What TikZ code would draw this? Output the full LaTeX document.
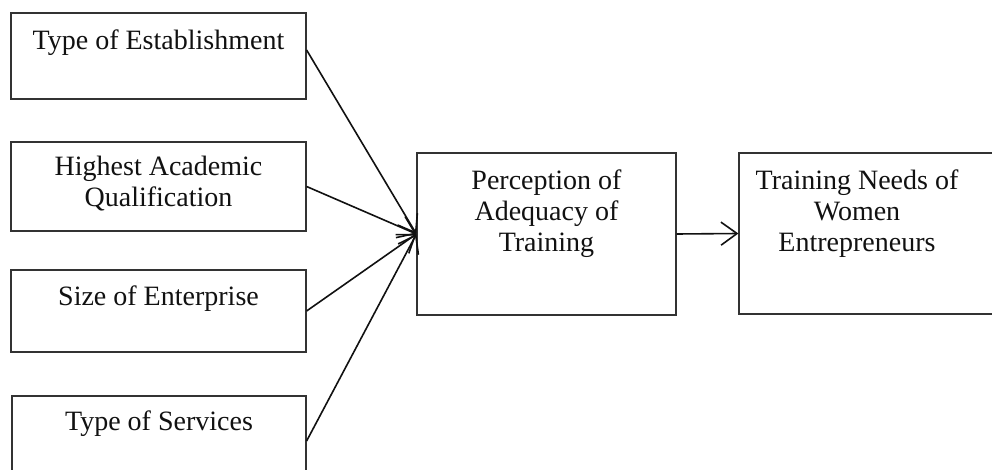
\documentclass[tikz,border=0pt]{standalone}
\usepackage{fontspec}
\setmainfont{Liberation Serif}
\usetikzlibrary{positioning,arrows.meta}
\definecolor{ink}    {HTML}{111111}
\definecolor{edgeink}{HTML}{333333}
\tikzset{
  >={Straight Barb[length=16pt,width=23pt]},
  % --- nodes
  var/.style  = {draw=edgeink, line width=1.2pt, inner sep=0pt, fill=white},
  lbl/.style  = {font=\fontsize{28}{31}\selectfont, align=center, text=ink,
                 inner sep=0pt, anchor=north},
  % --- edges
  e/.style    = {->, line width=1.6pt, draw=ink},
}

\begin{document}
\begin{tikzpicture}[x=1pt,y=-1pt]
  \useasboundingbox (0,0) rectangle (992,470);

  % the four factors on the left
  \node[var, minimum width=295pt, minimum height=86pt] (est)  at (158.5,56)  {};
  \node[var, minimum width=295pt, minimum height=89pt] (qual) at (158.5,186.5) {};
  \node[var, minimum width=295pt, minimum height=82pt] (size) at (158.5,311) {};
  \node[var, minimum width=294pt, minimum height=90pt] (serv) at (159,441)   {};

  % mediator and outcome
  \node[var, minimum width=259pt, minimum height=162pt] (perc) at (546.5,234) {};
  \node[var, minimum width=270pt, minimum height=161pt] (need) at (874,233.5) {};

  % labels hung from the top edge of each box
  \node[lbl, below=17pt of est.north]  (est-t)  {Type of Establishment};
  \node[lbl, below=14pt of qual.north] (qual-t) {Highest Academic\\Qualification};
  \node[lbl, below=16pt of size.north] (size-t) {Size of Enterprise};
  \node[lbl, below=15pt of serv.north] (serv-t) {Type of Services};
  \node[lbl, below=17pt of perc.north] (perc-t) {Perception of\\Adequacy of\\Training};
  \node[lbl] (need-t) at (857,170) {Training Needs of\\Women\\Entrepreneurs};

  % arrows
  \draw[e] ([yshift=6pt]est.east) -- (perc.west);
  \foreach \src in {qual,size,serv}
    \draw[e] (\src.east) -- (perc.west);
  \draw[e] (perc.east) -- (need.west);
\end{tikzpicture}
\end{document}
